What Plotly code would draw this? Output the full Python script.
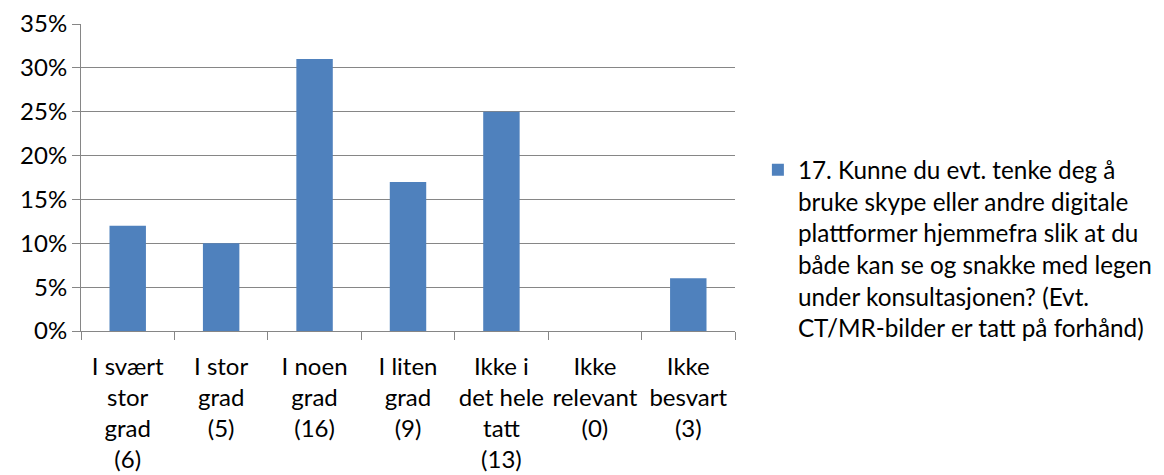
import plotly.graph_objects as go

categories = [
    "I svært<br>stor<br>grad<br>(6)",
    "I stor<br>grad<br>(5)",
    "I noen<br>grad<br>(16)",
    "I liten<br>grad<br>(9)",
    "Ikke i<br>det hele<br>tatt<br>(13)",
    "Ikke<br>relevant<br>(0)",
    "Ikke<br>besvart<br>(3)",
]
shares = [0.12, 0.10, 0.31, 0.17, 0.25, 0.0, 0.06]
series_name = (
    "17. Kunne du evt. tenke deg å<br>bruke skype eller andre digitale<br>"
    "plattformer hjemmefra slik at du<br>både kan se og snakke med legen<br>"
    "under konsultasjonen? (Evt.<br>CT/MR-bilder er tatt på forhånd)"
)
y_ticks = [0, 0.05, 0.10, 0.15, 0.20, 0.25, 0.30, 0.35]

FONT = "Lato, 'Open Sans', sans-serif"
GRID = "#868686"

fig = go.Figure()
fig.add_trace(go.Bar(
    x=categories, y=shares, name=series_name,
    marker=dict(color="#4f81bd", line=dict(width=0)),
    showlegend=True,
))

# page body keeps its default 8px margin, so the figure is 8px smaller
fig.update_layout(
    width=1156, height=467,
    margin=dict(l=73, r=429, t=16, b=144, autoexpand=False),
    paper_bgcolor="white", plot_bgcolor="white",
    font=dict(family=FONT, size=24, color="#000000"),
    bargap=0.61,
    legend=dict(
        x=1.035, y=0.598, xanchor="left", yanchor="top",
        valign="top", font=dict(size=24.3),
        bgcolor="rgba(0,0,0,0)",
    ),
    xaxis=dict(
        type="category", showline=True, linecolor=GRID, linewidth=1,
        ticks="outside", tickson="boundaries", ticklen=8, tickcolor=GRID,
        showgrid=False, tickangle=0, ticklabelstandoff=14, automargin=False,
    ),
    yaxis=dict(
        range=[0, 0.35], tickvals=y_ticks, tickformat=".0%",
        showgrid=True, gridcolor=GRID, gridwidth=1,
        showline=True, linecolor=GRID, linewidth=1,
        ticks="outside", ticklen=8, tickcolor=GRID, zeroline=False,
        automargin=False,
    ),
)

fig.write_html("out.html")
